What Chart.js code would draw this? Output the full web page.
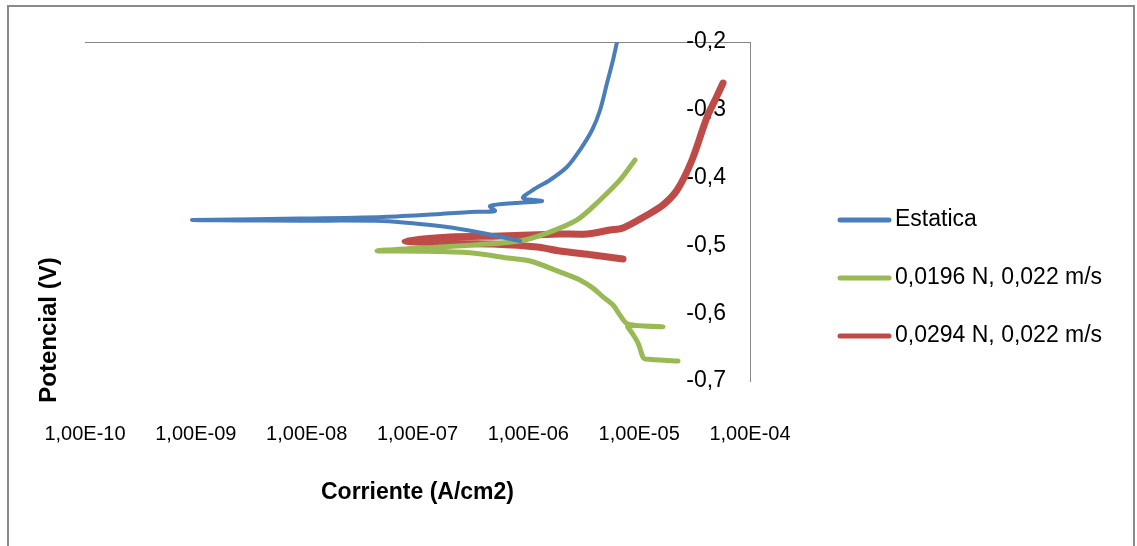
<!DOCTYPE html>
<html>
<head>
<meta charset="utf-8">
<script src="https://cdn.jsdelivr.net/npm/chart.js@4/dist/chart.umd.min.js"></script>
<style>
  body { margin: 0; background: #fff; }
  #wrap { position: relative; width: 1137px; height: 546px; overflow: hidden; }
  #frame { position: absolute; left: 7px; top: 5px; width: 1124px; height: 600px;
           border: 2px solid #8a8a8a; pointer-events: none; }
</style>
</head>
<body>
<div id="wrap">
  <canvas id="chart" width="1137" height="546"></canvas>
  <div id="frame"></div>
</div>
<script>
// polarization curves (current A/cm2, potential V)
const estaticaX = [8.41e-7, 5.21e-7, 3.44e-7, 1.85e-7, 1.05e-7, 4.89e-8, 8.71e-9, 9.23e-10, 8.71e-9, 4.89e-8,
                   1.60e-7, 2.98e-7, 5.0e-7, 4.51e-7, 7.58e-7, 1.33e-6, 8.95e-7, 1.10e-6, 1.57e-6, 2.23e-6,
                   2.92e-6, 3.76e-6, 4.44e-6, 5.13e-6, 5.81e-6, 6.31e-6];
const estaticaY = [-0.4935, -0.4861, -0.4802, -0.4729, -0.4684, -0.464, -0.4635, -0.4625, -0.4605, -0.4581,
                   -0.4537, -0.4507, -0.4493, -0.4419, -0.4375, -0.4345, -0.4301, -0.4183, -0.4035, -0.3844,
                   -0.3593, -0.3298, -0.3003, -0.2605, -0.2265, -0.2];

const carga1X = [2.24e-5, 1.13e-5, 1.08e-5, 9.77e-6, 8.62e-6, 7.93e-6, 1.64e-5, 7.93e-6, 6.72e-6, 5.81e-6,
                 4.72e-6, 3.83e-6, 2.92e-6, 2.06e-6, 1.04e-6, 6.84e-7, 2.98e-7, 1.05e-7, 4.31e-8, 1.05e-7,
                 3.44e-7, 8.41e-7, 1.47e-6, 2.75e-6, 4.44e-6, 6.72e-6, 9.18e-6];
const carga1Y = [-0.6705, -0.6676, -0.6646, -0.644, -0.629, -0.619, -0.620, -0.616, -0.603, -0.588,
                 -0.576, -0.563, -0.551, -0.541, -0.523, -0.519, -0.511, -0.5085, -0.508, -0.504,
                 -0.499, -0.4935, -0.482, -0.4625, -0.433, -0.4035, -0.374];

const carga2X = [7.15e-6, 3.83e-6, 1.93e-6, 1.20e-6, 4.80e-7, 1.96e-7, 7.71e-8, 1.96e-7, 5.55e-7, 1.93e-6,
                 3.38e-6, 5.46e-6, 7.15e-6, 1.18e-5, 1.64e-5, 2.20e-5, 3.00e-5, 4.10e-5, 4.94e-5, 5.71e-5];
const carga2Y = [-0.520, -0.5142, -0.5083, -0.5024, -0.498, -0.4965, -0.4935, -0.4876, -0.4861, -0.4832,
                 -0.4832, -0.4773, -0.4743, -0.4552, -0.4404, -0.4183, -0.374, -0.3106, -0.2826, -0.2605];

const seriesNames = ['Estatica', '0,0196 N, 0,022 m/s', '0,0294 N, 0,022 m/s'];
const seriesColors = ['#4a7ebb', '#98b954', '#be4b48'];

const xTickValues = [1e-10, 1e-9, 1e-8, 1e-7, 1e-6, 1e-5, 1e-4];
const xTickLabels = ['1,00E-10', '1,00E-09', '1,00E-08', '1,00E-07', '1,00E-06', '1,00E-05', '1,00E-04'];
const yTickValues = [-0.7, -0.6, -0.5, -0.4, -0.3, -0.2];
const yTickLabels = ['-0,7', '-0,6', '-0,5', '-0,4', '-0,3', '-0,2'];

const toPoints = (xs, ys) => xs.map((x, i) => ({x: x, y: ys[i]}));

const axisGray = '#868686';
const font = 'Liberation Sans';

// y title sits on the left while the y axis is on the right, so draw it here
const yTitle = {
    id: 'yTitle',
    afterDraw(chart) {
        const ctx = chart.ctx;
        ctx.save();
        ctx.translate(49, 330);
        ctx.rotate(-Math.PI / 2);
        ctx.font = 'bold 24px "' + font + '"';
        ctx.fillStyle = '#000';
        ctx.textAlign = 'center';
        ctx.textBaseline = 'middle';
        ctx.fillText('Potencial (V)', 0, 0);
        ctx.restore();
    }
};

// legend at the right, built from the datasets
const sideLegend = {
    id: 'sideLegend',
    afterDraw(chart) {
        const ctx = chart.ctx;
        ctx.save();
        ctx.font = '23px "' + font + '"';
        ctx.textBaseline = 'middle';
        chart.data.datasets.forEach((ds, i) => {
            const y = 220 + i * 58;
            ctx.strokeStyle = ds.borderColor;
            ctx.lineWidth = 5;
            ctx.lineCap = 'round';
            ctx.beginPath();
            ctx.moveTo(840, y);
            ctx.lineTo(889, y);
            ctx.stroke();
            ctx.fillStyle = '#000';
            ctx.fillText(ds.label, 895, y);
        });
        ctx.restore();
    }
};

const datasets = [
    {data: toPoints(estaticaX, estaticaY), borderWidth: 4},
    {data: toPoints(carga1X, carga1Y), borderWidth: 5},
    {data: toPoints(carga2X, carga2Y), borderWidth: 7}
].map((d, i) => Object.assign(d, {
    label: seriesNames[i],
    borderColor: seriesColors[i],
    backgroundColor: seriesColors[i],
    showLine: true,
    pointRadius: 0,
    tension: 0.3,
    borderCapStyle: 'round',
    borderJoinStyle: 'round'
}));

new Chart(document.getElementById('chart'), {
    type: 'scatter',
    data: {datasets: datasets},
    plugins: [yTitle, sideLegend],
    options: {
        responsive: false,
        animation: false,
        devicePixelRatio: 1,
        layout: {padding: {left: 85, top: 42, right: 387, bottom: 32}},
        plugins: {
            tooltip: {enabled: false},
            legend: {display: false}
        },
        scales: {
            x: {
                type: 'logarithmic',
                position: 'bottom',
                min: 1e-10,
                max: 1e-4,
                afterBuildTicks(scale) {
                    scale.ticks = xTickValues.map(v => ({value: v}));
                },
                afterFit(scale) { scale.height = 133; },
                grid: {display: false},
                border: {display: false},
                ticks: {
                    autoSkip: false,
                    maxRotation: 0,
                    padding: 33,
                    color: '#000',
                    font: {family: font, size: 20},
                    callback: (v, i) => xTickLabels[i]
                },
                title: {
                    display: true,
                    text: 'Corriente (A/cm2)',
                    color: '#000',
                    font: {family: font, size: 23, weight: 'bold'},
                    padding: {top: 0, bottom: 8}
                }
            },
            y: {
                type: 'linear',
                position: 'right',
                min: -0.7,
                max: -0.2,
                afterBuildTicks(scale) {
                    scale.ticks = yTickValues.map(v => ({value: v}));
                },
                afterFit(scale) { scale.width = 0; },
                border: {display: true, color: axisGray, width: 1},
                grid: {
                    drawTicks: false,
                    color: c => (c.tick && Math.abs(c.tick.value + 0.2) < 1e-9) ? axisGray : 'rgba(0,0,0,0)'
                },
                ticks: {
                    mirror: true,
                    padding: -24,
                    color: '#000',
                    font: {family: font, size: 23},
                    callback: (v, i) => yTickLabels[i]
                }
            }
        }
    }
});
</script>
</body>
</html>
